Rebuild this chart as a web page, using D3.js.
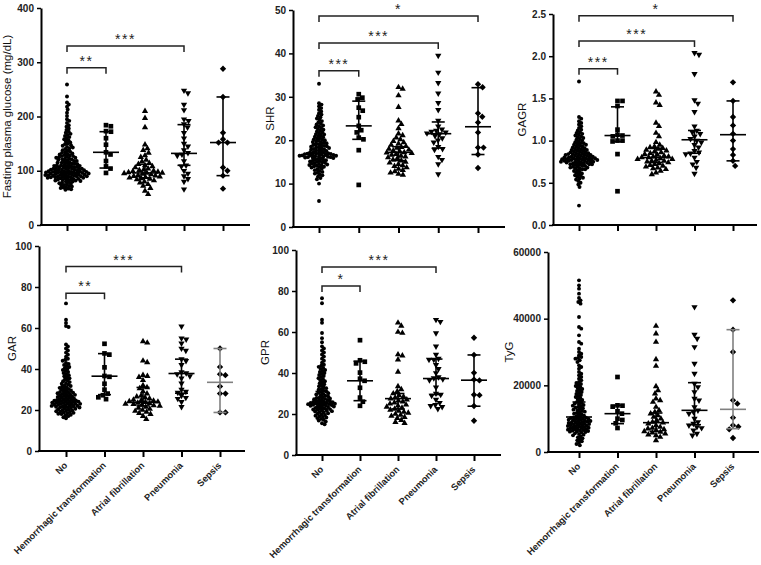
<!DOCTYPE html>
<html>
<head>
<meta charset="utf-8">
<script src="https://cdn.jsdelivr.net/npm/d3@7"></script>
<style>
  body { margin: 0; background: #fff; }
  text { font-family: "Liberation Sans", Arial, sans-serif; }
</style>
</head>
<body>
<div id="chart"></div>
<script>
var categories = ["No", "Hemorrhagic transformation", "Atrial fibrillation", "Pneumonia", "Sepsis"];

// values per group: No, Hemorrhagic, Atrial fibrillation, Pneumonia, Sepsis
var glucose = [
  [259,237,226,222,218,213,207,201,195,192,188,184,181,178,175,172,170,168,166,164,162,160,158,156,154,152,150,149,147,146,144,143,141,140,138,137,135,134,133,132,131,130,129,128,127,127,126,125,124,124,123,122,121,121,120,119,118,118,117,116,115,115,114,113,113,112,111,111,110,110,109,109,108,108,107,107,106,106,105,105,104,104,104,103,103,102,102,102,101,101,100,100,100,99,99,99,98,98,98,97,97,97,96,96,96,95,95,95,94,94,94,93,93,93,92,92,92,91,91,91,90,90,90,89,89,89,88,88,88,87,87,86,86,85,85,84,84,83,83,82,82,81,80,80,79,78,77,76,75,74,73,72,71,70,69,68,67,66,65],
  [184,182,173,172,160,148,134,130,118,108,104,96],
  [210,197,180,148,141,138,133,128,125,120,117,114,112,110,108,106,104,102,101,100,99,98,97,96,96,95,94,93,92,91,90,89,88,87,86,85,84,82,80,78,75,72,68,63,57],
  [248,243,222,212,195,192,186,180,170,160,150,145,138,133,130,128,118,110,108,100,95,90,85,80,66],
  [288,236,170,158,152,152,106,100,91,67]
];
var shr = [
  [33,28.5,28.2,27.8,27.4,27,26.6,26.2,25.9,25.6,25.3,25,24.7,24.4,24.1,23.8,23.6,23.4,23.2,23,22.8,22.6,22.4,22.2,22,21.8,21.6,21.4,21.3,21.1,21,20.8,20.7,20.5,20.4,20.2,20.1,20,19.9,19.7,19.6,19.5,19.4,19.3,19.1,19,18.9,18.8,18.7,18.6,18.5,18.4,18.3,18.2,18.1,18,17.9,17.8,17.7,17.6,17.5,17.4,17.3,17.2,17.1,17,17,16.9,16.9,16.8,16.8,16.7,16.7,16.6,16.6,16.5,16.5,16.4,16.4,16.3,16.3,16.2,16.2,16.1,16.1,16,16,15.9,15.8,15.7,15.6,15.5,15.4,15.3,15.2,15.1,15,14.9,14.8,14.7,14.6,14.5,14.4,14.3,14.2,14.1,14,13.9,13.8,13.7,13.5,13.3,13.1,12.9,12.7,12.5,12.3,12.1,11.9,11.6,11.3,11,10,6],
  [30.6,29.8,29.4,27.5,26.8,25.3,23.3,22.3,21.8,20.6,20.2,17.7,9.7],
  [32.2,31.8,30.3,27.6,24.5,23.7,22.7,21.5,21.1,20.6,20.2,19.8,19.5,19.2,18.9,18.6,18.4,18.2,18,17.8,17.6,17.4,17.2,17.1,17,16.8,16.6,16.4,16.2,16,15.8,15.5,15.3,15,14.8,14.5,14.2,14,13.7,13.4,13.1,12.8,12.5,12.2,12],
  [39.5,35.6,33.2,30.8,28.6,27,24.5,23.2,22.5,22.2,22,21.8,21.6,21.4,21,20.5,20,19.5,18.5,18,17.8,16.2,15.5,14.5,12.2],
  [32.9,32.2,26.2,25.4,24.1,21.8,18.3,18.3,16.7,13.6]
];
var gagr = [
  [1.70,1.28,1.26,1.23,1.21,1.19,1.17,1.15,1.13,1.12,1.10,1.09,1.08,1.07,1.06,1.05,1.04,1.03,1.02,1.01,1.00,0.99,0.98,0.97,0.97,0.96,0.95,0.95,0.94,0.93,0.93,0.92,0.91,0.91,0.90,0.90,0.89,0.89,0.88,0.88,0.87,0.87,0.86,0.86,0.85,0.85,0.85,0.84,0.84,0.84,0.83,0.83,0.83,0.82,0.82,0.82,0.81,0.81,0.81,0.80,0.80,0.80,0.80,0.79,0.79,0.79,0.79,0.78,0.78,0.78,0.78,0.77,0.77,0.77,0.77,0.76,0.76,0.76,0.76,0.75,0.75,0.75,0.75,0.74,0.74,0.74,0.73,0.73,0.73,0.72,0.72,0.72,0.71,0.71,0.70,0.70,0.69,0.69,0.68,0.68,0.67,0.67,0.66,0.66,0.65,0.64,0.63,0.62,0.61,0.60,0.59,0.58,0.57,0.56,0.55,0.54,0.52,0.50,0.48,0.45,0.23],
  [1.47,1.47,1.41,1.13,1.07,1.06,1.05,1.00,1.00,0.99,0.84,0.40],
  [1.58,1.54,1.45,1.42,1.21,1.17,1.09,1.05,0.98,0.95,0.93,0.92,0.91,0.90,0.89,0.88,0.87,0.86,0.85,0.84,0.83,0.82,0.81,0.81,0.80,0.80,0.79,0.78,0.78,0.77,0.76,0.76,0.75,0.74,0.73,0.72,0.71,0.70,0.69,0.68,0.67,0.66,0.64,0.62,0.60],
  [2.04,2.02,1.79,1.48,1.44,1.34,1.17,1.12,1.10,1.08,1.05,1.02,1.00,0.98,0.95,0.92,0.88,0.86,0.85,0.84,0.80,0.75,0.72,0.68,0.61],
  [1.69,1.47,1.28,1.18,1.08,1.00,0.90,0.83,0.76,0.70]
];
var gar = [
  [72,64,62.5,61,60.5,52,51,50,49,48,47,46,45,44.5,44,43,42.5,42,41.5,41,40.5,40,39.5,39,38.5,38,37.5,37,36.5,36,35.5,35,34.5,34,33.6,33.2,32.8,32.4,32,31.7,31.4,31.1,30.8,30.5,30.2,29.9,29.6,29.3,29,28.8,28.6,28.4,28.2,28,27.8,27.6,27.4,27.2,27,26.8,26.6,26.4,26.2,26,25.8,25.6,25.4,25.2,25,24.9,24.8,24.6,24.5,24.4,24.2,24.1,24,23.9,23.8,23.6,23.5,23.4,23.2,23.1,23,22.9,22.8,22.6,22.5,22.4,22.2,22.1,22,21.8,21.7,21.6,21.4,21.3,21.2,21,20.8,20.6,20.4,20.2,20,19.8,19.6,19.4,19.2,19,18.8,18.6,18.4,18.2,18,17.7,17.4,17,16.5,16],
  [52.3,47.6,47,40.8,36.6,36.2,32.8,29.9,28,27.2,26.2,25.3],
  [53.5,52.8,44,43.2,37,36.5,36,34.5,32,31,30.5,29,28,27,26.5,26,25.5,25,24.8,24.5,24.2,24,23.8,23.5,23.2,23,22.8,22.5,22.2,22,21.5,21,20.5,20,19.5,19,18.5,18,17,15.5],
  [60.8,55,54.5,52.5,50,49,44.8,44,42,38.5,38,37.5,36.5,35.5,33,30,29,28.5,27,26,25.5,24,21.5],
  [50,41,37.5,37,31.5,28,28,18.8,18.8]
];
var gpr = [
  [76.5,74,66,64.5,59.5,57,55,53,52,51,50,49,48,47,46,45,44,43.5,43,42.5,42,41.5,41,40.5,40,39.5,39,38.5,38,37.5,37,36.5,36,35.5,35,34.5,34,33.5,33,32.6,32.2,31.8,31.4,31,30.7,30.4,30.1,29.8,29.5,29.2,28.9,28.6,28.3,28,27.8,27.6,27.4,27.2,27,26.8,26.6,26.4,26.2,26,25.9,25.8,25.6,25.5,25.4,25.2,25.1,25,24.9,24.8,24.6,24.5,24.4,24.2,24.1,24,23.8,23.6,23.4,23.2,23,22.8,22.6,22.4,22.2,22,21.8,21.6,21.4,21.2,21,20.7,20.4,20.1,19.8,19.5,19.2,18.9,18.6,18.3,18,17.6,17.2,16.8,16.3,15.5,15],
  [56,46.2,45.5,44.7,40.2,37.2,36.2,32.8,28,26,24],
  [64.5,63,60,59.5,49,48.5,46.5,40.5,33.5,32,31,30,29,28.5,28,27.5,27,26.5,26,25.5,25,24.5,24,23.5,23,22.5,22,21.5,21,20.5,20,19.5,19,18.5,18,17,16,15.5],
  [66,65,59.5,53,49,47,46.5,46.5,44,42,40,38,37.5,37,36.5,33,30,29.5,29,27,25.5,24.5,24,23.5,22.5],
  [57.2,48.8,40.1,36.8,36.4,29.4,29.2,23.9,16.7]
];
var tyg = [
  [51500,50000,49000,47500,46200,45500,45000,44500,40500,37500,37000,35000,33000,32500,31000,30000,29500,29000,28500,28200,28000,27500,27000,26000,25500,25000,24000,23500,23000,22500,22000,21500,21000,20700,20400,20100,19800,19500,19200,18900,18600,18300,18000,17700,17400,17100,16800,16500,16200,15900,15600,15300,15000,14700,14500,14300,14100,13900,13700,13500,13300,13100,12900,12700,12500,12300,12100,11900,11700,11500,11300,11100,10900,10700,10500,10400,10300,10200,10100,10000,9900,9800,9700,9600,9500,9400,9300,9200,9100,9000,8900,8800,8700,8600,8500,8400,8300,8200,8100,8000,7900,7800,7700,7600,7500,7400,7300,7200,7100,7000,6900,6800,6700,6600,6500,6400,6300,6200,6100,6000,5800,5600,5400,5200,5000,4700,4400,4100,3800,3500,3200,2800,2400,2000],
  [22500,14000,13900,13600,12200,11500,10000,9600,8600,7200],
  [37800,35500,33000,27800,25800,19700,18500,17500,16000,15500,15000,13500,12500,12000,11500,11000,10500,10000,9500,9000,8800,8500,8000,7500,7200,7000,6800,6500,6200,6000,5800,5500,5200,5000,4500,3500],
  [43500,35200,34000,31500,26500,23500,20500,19500,18000,16000,15500,13500,12500,12000,11500,10000,9000,8500,8000,7500,7200,6500,5500,5000],
  [45500,36700,30000,15500,14500,10300,8000,7600,6800,4200]
];

// median, lower, upper bar per group
var glucoseBars = [[97,88,108],[134,105,172],[96,87,112],[132,110,185],[152,91,236]];
var shrBars = [[17,15.2,19.2],[23.3,20.2,29],[17.2,15.3,18.5],[21.5,18.2,24.2],[23.1,16.7,32.1]];
var gagrBars = [[0.78,0.72,0.88],[1.06,0.99,1.40],[0.80,0.74,0.91],[1.01,0.85,1.12],[1.07,0.76,1.47]];
var garBars = [[24.5,21.5,30],[36.5,27.5,47.5],[23.8,22,31],[37.8,28.2,44.8],[33.5,18.8,50]];
var gprBars = [[25,22.5,31],[36.2,26.5,45.8],[27.5,22.5,30],[37.3,29.5,46.8],[36.5,23.8,48.8]];
var tygBars = [[10500,7500,15000],[11500,8500,14000],[8800,6200,11700],[12500,8200,20800],[12800,7000,36700]];

// significance brackets: from group, to group, height, stars
var glucoseSig = [[0,1,290,"**"],[0,3,330,"***"]];
var shrSig = [[0,1,36,"***"],[0,3,42.4,"***"],[0,4,48.6,"*"]];
var gagrSig = [[0,1,1.85,"***"],[0,3,2.18,"***"],[0,4,2.48,"*"]];
var garSig = [[0,1,77,"**"],[0,3,90,"***"]];
var gprSig = [[0,1,82.4,"*"],[0,3,91.7,"***"]];
var tygSig = [];

var glucoseTicks = [0,100,200,300,400];
var shrTicks = [0,10,20,30,40,50];
var gagrTicks = [0,0.5,1,1.5,2,2.5];
var garTicks = [0,20,40,60,80,100];
var gprTicks = [0,20,40,60,80,100];
var tygTicks = [0,20000,40000,60000];

var panels = [
  {label:"Fasting plasma glucose (mg/dL)", data:glucose, bars:glucoseBars, sig:glucoseSig, ticks:glucoseTicks, fmt:d3.format("d"),
   left:41, top:8, bottom:225, x0:67, x1:223, right:250, labelX:7, xLabels:false, grayLast:false},
  {label:"SHR", data:shr, bars:shrBars, sig:shrSig, ticks:shrTicks, fmt:d3.format("d"),
   left:293, top:10, bottom:227, x0:319, x1:478, right:505, labelX:270, xLabels:false, grayLast:false},
  {label:"GAGR", data:gagr, bars:gagrBars, sig:gagrSig, ticks:gagrTicks, fmt:d3.format(".1f"),
   left:553, top:14, bottom:225, x0:579, x1:733, right:757, labelX:522, xLabels:false, grayLast:false},
  {label:"GAR", data:gar, bars:garBars, sig:garSig, ticks:garTicks, fmt:d3.format("d"),
   left:39, top:246, bottom:451, x0:66, x1:220, right:245, labelX:12, xLabels:true, grayLast:true},
  {label:"GPR", data:gpr, bars:gprBars, sig:gprSig, ticks:gprTicks, fmt:d3.format("d"),
   left:296, top:250, bottom:455, x0:322, x1:474, right:501, labelX:265, xLabels:true, grayLast:false},
  {label:"TyG", data:tyg, bars:tygBars, sig:tygSig, ticks:tygTicks, fmt:d3.format("d"),
   left:548, top:252, bottom:452, x0:579, x1:733, right:759, labelX:509, xLabels:true, grayLast:true}
];

var shapes = [
  {type:d3.symbolCircle, size:12, rot:0, gap:2.8},
  {type:d3.symbolSquare, size:22, rot:0, gap:5},
  {type:d3.symbolTriangle, size:17, rot:0, gap:4.5},
  {type:d3.symbolTriangle, size:17, rot:180, gap:4.8},
  {type:d3.symbolSquare, size:20, rot:45, gap:5.5}
];

var svg = d3.select("#chart").append("svg")
  .attr("width", 761)
  .attr("height", 565);

// simple beeswarm: place each point as close to the centre as it can go
function swarm(values, y, gap) {
  var pts = values.map(function (v) { return {v: v, y: y(v), x: 0}; })
    .sort(function (a, b) { return a.y - b.y; });
  var placed = [];
  pts.forEach(function (p) {
    var cands = [0];
    placed.forEach(function (q) {
      var dy = Math.abs(q.y - p.y);
      if (dy < gap) {
        var dx = Math.sqrt(gap * gap - dy * dy);
        cands.push(q.x + dx, q.x - dx);
      }
    });
    cands.sort(function (a, b) { return Math.abs(a) - Math.abs(b); });
    for (var i = 0; i < cands.length; i++) {
      var c = cands[i];
      var ok = placed.every(function (q) {
        return (q.x - c) * (q.x - c) + (q.y - p.y) * (q.y - p.y) >= gap * gap - 0.01;
      });
      if (ok) { p.x = c; break; }
    }
    placed.push(p);
  });
  return placed;
}

panels.forEach(function (p) {
  var g = svg.append("g");
  var max = p.ticks[p.ticks.length - 1];

  var y = d3.scaleLinear().domain([0, max]).range([p.bottom, p.top]);
  var x = d3.scalePoint().domain(categories).range([p.x0, p.x1]);

  // y axis
  var yAxis = g.append("g")
    .attr("transform", "translate(" + p.left + ",0)")
    .call(d3.axisLeft(y).tickValues(p.ticks).tickFormat(p.fmt).tickSize(4).tickSizeOuter(0).tickPadding(3));
  yAxis.select(".domain").attr("stroke-width", 2).attr("stroke", "#000");
  yAxis.selectAll(".tick line").attr("stroke-width", 1.5).attr("stroke", "#000");
  yAxis.selectAll(".tick text").attr("font-size", 10).attr("font-weight", "bold").attr("fill", "#222")
    .attr("font-family", "Liberation Sans, Arial, sans-serif");

  // x axis
  var xAxis = g.append("g")
    .attr("transform", "translate(0," + p.bottom + ")")
    .call(d3.axisBottom(x).tickSize(6).tickSizeOuter(0).tickFormat(""));
  xAxis.select(".domain").remove();
  xAxis.selectAll(".tick line").attr("stroke-width", 2).attr("stroke", "#000");
  g.append("line")
    .attr("x1", p.left - 1).attr("x2", p.right)
    .attr("y1", p.bottom).attr("y2", p.bottom)
    .attr("stroke", "#000").attr("stroke-width", 2);

  if (p.xLabels) {
    g.selectAll(".xlab")
      .data(categories)
      .enter()
      .append("text")
      .attr("class", "xlab")
      .attr("transform", function (d) { return "translate(" + (x(d) + 2) + "," + (p.bottom + 15) + ") rotate(-45)"; })
      .attr("text-anchor", "end")
      .attr("font-size", 9.3)
      .attr("font-weight", "bold")
      .attr("fill", "#222")
      .text(function (d) { return d; });
  }

  // y label
  g.append("text")
    .attr("transform", "translate(" + p.labelX + "," + ((p.top + p.bottom) / 2) + ") rotate(-90)")
    .attr("text-anchor", "middle")
    .attr("dominant-baseline", "central")
    .attr("font-size", 11.5)
    .attr("fill", "#111")
    .text(p.label);

  // points
  p.data.forEach(function (vals, gi) {
    var s = shapes[gi];
    var sym = d3.symbol().type(s.type).size(s.size);
    var pts = swarm(vals, y, s.gap);
    g.selectAll(".pt" + gi)
      .data(pts)
      .enter()
      .append("path")
      .attr("d", sym)
      .attr("transform", function (d) {
        return "translate(" + (x(categories[gi]) + d.x) + "," + d.y + ") rotate(" + s.rot + ")";
      })
      .attr("fill", "#000");
  });

  // median with bars
  p.bars.forEach(function (b, gi) {
    var cx = x(categories[gi]);
    var col = (p.grayLast && gi === 4) ? "#808080" : "#000";
    var bg = g.append("g").attr("stroke", col).attr("stroke-width", 1.6);
    bg.append("line").attr("x1", cx).attr("x2", cx).attr("y1", y(b[1])).attr("y2", y(b[2]));
    bg.append("line").attr("x1", cx - 13).attr("x2", cx + 13).attr("y1", y(b[0])).attr("y2", y(b[0]));
    bg.append("line").attr("x1", cx - 6.5).attr("x2", cx + 6.5).attr("y1", y(b[1])).attr("y2", y(b[1]));
    bg.append("line").attr("x1", cx - 6.5).attr("x2", cx + 6.5).attr("y1", y(b[2])).attr("y2", y(b[2]));
  });

  // significance brackets
  p.sig.forEach(function (s) {
    var xa = x(categories[s[0]]), xb = x(categories[s[1]]), yy = y(s[2]);
    g.append("path")
      .attr("d", "M" + xa + "," + (yy + 6) + "V" + yy + "H" + xb + "V" + (yy + 6))
      .attr("fill", "none")
      .attr("stroke", "#222")
      .attr("stroke-width", 1.5);
    g.append("text")
      .attr("x", (xa + xb) / 2)
      .attr("y", yy - 2)
      .attr("text-anchor", "middle")
      .attr("font-size", 14)
      .attr("letter-spacing", 1.5)
      .attr("fill", "#222")
      .text(s[3]);
  });
});
</script>
</body>
</html>
